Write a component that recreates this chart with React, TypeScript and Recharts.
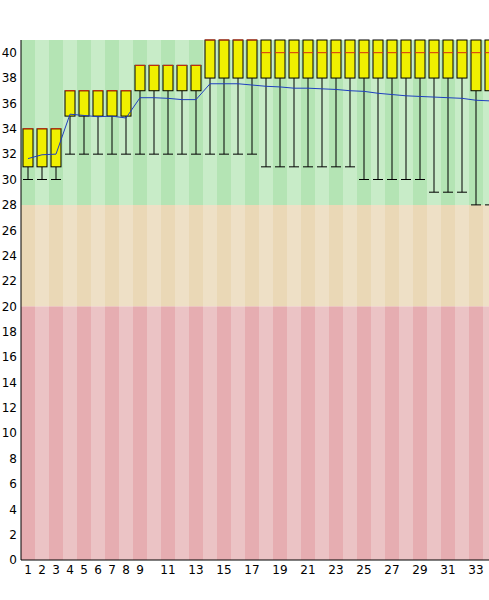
import { ComposedChart, Bar, Line, XAxis, YAxis, ReferenceArea } from 'recharts';

const categories = [
  1, 2, 3, 4, 5, 6, 7, 8, 9, 10, 11, 12, 13, 14, 15, 16, 17,
  18, 19, 20, 21, 22, 23, 24, 25, 26, 27, 28, 29, 30, 31, 32, 33, 34,
];
const lowValues = [
  30, 30, 30, 32, 32, 32, 32, 32, 32, 32, 32, 32, 32, 32, 32, 32, 32,
  31, 31, 31, 31, 31, 31, 31, 30, 30, 30, 30, 30, 29, 29, 29, 28, 28,
];
const q1Values = [
  31, 31, 31, 35, 35, 35, 35, 35, 37, 37, 37, 37, 37, 38, 38, 38, 38,
  38, 38, 38, 38, 38, 38, 38, 38, 38, 38, 38, 38, 38, 38, 38, 37, 37,
];
// from box 14 on the tops run past the end of the axis, 41 is what shows
const q3Values = [
  34, 34, 34, 37, 37, 37, 37, 37, 39, 39, 39, 39, 39, 41, 41, 41, 41,
  41, 41, 41, 41, 41, 41, 41, 41, 41, 41, 41, 41, 41, 41, 41, 41, 41,
];
const medianValues = [
  34, 34, 34, 37, 37, 37, 37, 37, 39, 39, 39, 39, 39, 41, 41, 41, 41,
  40, 40, 40, 40, 40, 40, 40, 40, 40, 40, 40, 40, 40, 40, 40, 40, 40,
];
const meanValues = [
  31.65, 31.95, 32.0, 35.15, 35.05, 34.95, 35.0, 34.85, 36.45, 36.45, 36.4, 36.3, 36.3,
  37.55, 37.55, 37.55, 37.45, 37.35, 37.3, 37.2, 37.2, 37.15, 37.1, 37.0, 36.95, 36.8,
  36.7, 36.6, 36.55, 36.5, 36.45, 36.4, 36.25, 36.2,
];
const yTicks = [0, 2, 4, 6, 8, 10, 12, 14, 16, 18, 20, 22, 24, 26, 28, 30, 32, 34, 36, 38, 40];

// background zones: [from, to, dark stripe, light stripe]
const zones: [number, number, string, string][] = [
  [0, 20, '#e6adb1', '#ebc3c5'],
  [20, 28, '#ead8b6', '#eee0c6'],
  [28, 41, '#b4e4b4', '#c8ecc8'],
];

const data = categories.map((cat, i) => ({
  cat,
  low: lowValues[i],
  q1: q1Values[i],
  q3: q3Values[i],
  median: medianValues[i],
  mean: meanValues[i],
}));

const font = { fontFamily: 'DejaVu Sans, Verdana, sans-serif', fontSize: 12, fill: '#000' };

function BoxShape(props: any) {
  const { x, y, width, height, payload } = props;
  if (height == null || !payload) return null;
  const k = height / (payload.q3 - payload.q1);
  const bottom = y + height;
  const yLow = bottom + (payload.q1 - payload.low) * k;
  const yMed = y + (payload.q3 - payload.median) * k;
  const cx = x + width / 2;
  return (
    <g>
      <line x1={cx} x2={cx} y1={bottom} y2={yLow} stroke="#000" />
      <line x1={x} x2={x + width} y1={yLow} y2={yLow} stroke="#000" />
      <rect x={x} y={y} width={width} height={height} fill="#f0f000" stroke="#000" />
      <line x1={x} x2={x + width} y1={yMed} y2={yMed} stroke="#d83010" />
    </g>
  );
}

export default function App() {
  return (
    <div style={{ position: 'absolute', left: 0, top: 0, width: 489, height: 600, overflow: 'hidden', background: '#fff' }}>
      <ComposedChart
        width={500}
        height={600}
        data={data}
        margin={{ top: 40, right: 3, bottom: 0, left: 0 }}
      >
        {zones.map(([from, to, dark, light]) =>
          categories.map((cat, i) => (
            <ReferenceArea
              key={`${from}-${cat}`}
              x1={cat}
              x2={cat}
              y1={from}
              y2={to}
              fill={i % 2 === 0 ? dark : light}
              fillOpacity={1}
              stroke="none"
            />
          ))
        )}
        <XAxis
          dataKey="cat"
          height={40}
          interval={0}
          tickLine={false}
          tickSize={2}
          tickMargin={3}
          axisLine={{ stroke: '#000' }}
          tick={font}
          tickFormatter={(v: number) => (v <= 9 || v % 2 === 1 ? String(v) : '')}
        />
        <YAxis
          domain={[0, 41]}
          ticks={yTicks}
          interval={0}
          width={21}
          tickLine={false}
          tickSize={2}
          tickMargin={2}
          axisLine={{ stroke: '#000' }}
          tick={font}
        />
        <Bar
          dataKey={(d: any) => [d.q1, d.q3]}
          barSize={10}
          shape={<BoxShape />}
          isAnimationActive={false}
        />
        <Line
          dataKey="mean"
          type="linear"
          stroke="#1f3fbf"
          strokeWidth={1}
          dot={false}
          activeDot={false}
          isAnimationActive={false}
        />
      </ComposedChart>
    </div>
  );
}
